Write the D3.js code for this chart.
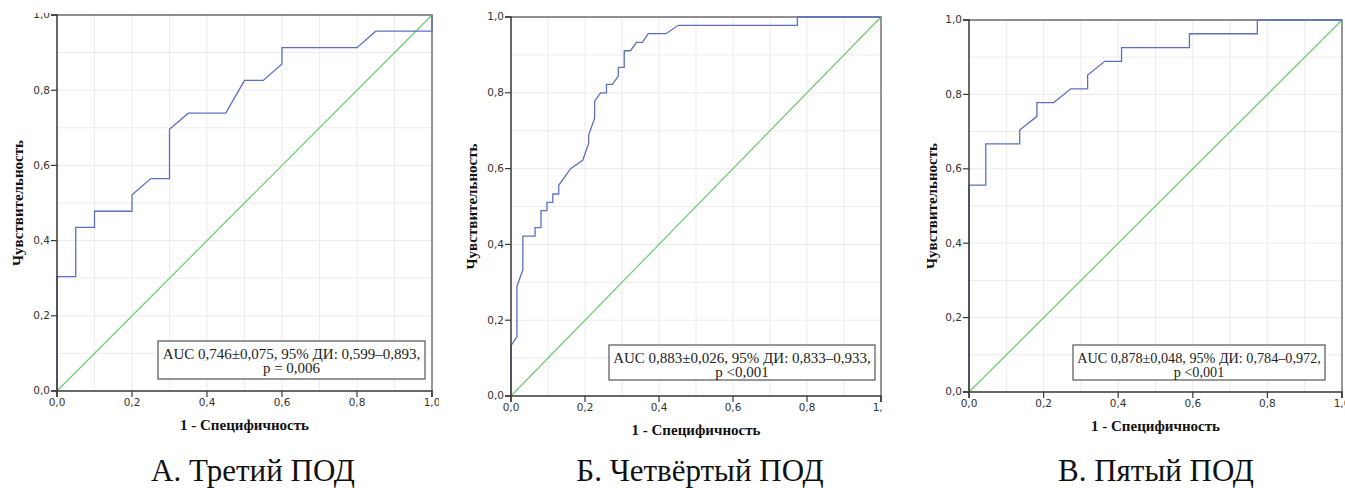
<!DOCTYPE html>
<html>
<head>
<meta charset="utf-8">
<script src="https://cdn.jsdelivr.net/npm/d3@7/dist/d3.min.js"></script>
<style>
  html, body { margin: 0; padding: 0; background: #fff; }
  svg { display: block; }
  .tick text { font-family: "DejaVu Sans", sans-serif; font-size: 10.5px; fill: #333; }
</style>
</head>
<body>
<svg id="chart" width="1345" height="488"></svg>
<script>
// ROC curve points (x = 1 - specificity, y = sensitivity)
var fprA = [0, 0, 0.05, 0.05, 0.10, 0.10, 0.20, 0.20, 0.25, 0.30, 0.30, 0.35, 0.45, 0.50, 0.55, 0.60, 0.60, 0.80, 0.85, 1.00, 1.00];
var tprA = [0, 0.304, 0.304, 0.435, 0.435, 0.478, 0.478, 0.522, 0.565, 0.565, 0.696, 0.739, 0.739, 0.826, 0.826, 0.870, 0.913, 0.913, 0.957, 0.957, 1.00];

var fprB = [0, 0, 0.016, 0.016, 0.032, 0.032, 0.065, 0.065, 0.081, 0.081, 0.097, 0.097, 0.113, 0.113, 0.129, 0.129, 0.161, 0.194, 0.210, 0.210, 0.226, 0.226, 0.242, 0.258, 0.258, 0.274, 0.290, 0.290, 0.306, 0.306, 0.323, 0.339, 0.355, 0.371, 0.419, 0.452, 0.774, 0.774, 1.00];
var tprB = [0, 0.133, 0.156, 0.289, 0.333, 0.422, 0.422, 0.444, 0.444, 0.489, 0.489, 0.511, 0.511, 0.533, 0.533, 0.556, 0.600, 0.622, 0.667, 0.689, 0.733, 0.778, 0.800, 0.800, 0.822, 0.822, 0.844, 0.867, 0.867, 0.911, 0.911, 0.933, 0.933, 0.956, 0.956, 0.978, 0.978, 1.00, 1.00];

var fprC = [0, 0, 0.045, 0.045, 0.136, 0.136, 0.182, 0.182, 0.227, 0.273, 0.318, 0.318, 0.364, 0.409, 0.409, 0.591, 0.591, 0.773, 0.773, 1.00];
var tprC = [0, 0.556, 0.556, 0.667, 0.667, 0.704, 0.741, 0.778, 0.778, 0.815, 0.815, 0.852, 0.889, 0.889, 0.926, 0.926, 0.963, 0.963, 1.00, 1.00];

var tickValues = [0, 0.2, 0.4, 0.6, 0.8, 1.0];
var gridValues = d3.range(0, 1.0001, 0.1);
var aucLines = [
  ["AUC 0,746±0,075, 95% ДИ: 0,599–0,893,", "p = 0,006"],
  ["AUC 0,883±0,026, 95% ДИ: 0,833–0,933,", "p <0,001"],
  ["AUC 0,878±0,048, 95% ДИ: 0,784–0,972,", "p <0,001"]
];
var captions = ["А. Третий ПОД", "Б. Четвёртый ПОД", "В. Пятый ПОД"];
var xTitle = "1 - Специфичность";
var yTitle = "Чувствительность";

// panel layout
var panels = [
  { fpr: fprA, tpr: tprA, left: 57, top: 15, w: 375, h: 376, clip: [0, 13, 439, 475], box: [158, 341, 267, 38], boxFont: 15, yTitleX: 18, capX: 253 },
  { fpr: fprB, tpr: tprB, left: 511, top: 17, w: 370, h: 379, clip: [455, 0, 428, 488], box: [609, 345, 266, 35], boxFont: 15, yTitleX: 472, capX: 700 },
  { fpr: fprC, tpr: tprC, left: 969, top: 20, w: 373, h: 372, clip: [910, 0, 435, 488], box: [1073, 345, 252, 35], boxFont: 14.2, yTitleX: 932, capX: 1156 }
];

var svg = d3.select("#chart");
var defs = svg.append("defs");

panels.forEach(function(p, i) {
  defs.append("clipPath").attr("id", "clip" + i)
    .append("rect")
    .attr("x", p.clip[0]).attr("y", p.clip[1])
    .attr("width", p.clip[2]).attr("height", p.clip[3]);

  var x = d3.scaleLinear().domain([0, 1]).range([p.left, p.left + p.w]);
  var y = d3.scaleLinear().domain([0, 1]).range([p.top + p.h, p.top]);

  var g = svg.append("g").attr("clip-path", "url(#clip" + i + ")");

  // grid
  g.append("g").selectAll("line.gx")
    .data(gridValues).enter().append("line")
    .attr("x1", function(d) { return x(d); }).attr("x2", function(d) { return x(d); })
    .attr("y1", y(0)).attr("y2", y(1))
    .attr("stroke", "#ececec").attr("stroke-width", 1);
  g.append("g").selectAll("line.gy")
    .data(gridValues).enter().append("line")
    .attr("y1", function(d) { return y(d); }).attr("y2", function(d) { return y(d); })
    .attr("x1", x(0)).attr("x2", x(1))
    .attr("stroke", "#ececec").attr("stroke-width", 1);

  // frame (top & right)
  g.append("path")
    .attr("d", "M" + x(0) + "," + y(1) + "H" + x(1) + "V" + y(0))
    .attr("fill", "none").attr("stroke", "#6e6e6e").attr("stroke-width", 1.4);

  // reference diagonal
  g.append("line")
    .attr("x1", x(0)).attr("y1", y(0)).attr("x2", x(1)).attr("y2", y(1))
    .attr("stroke", "#6ccb6c").attr("stroke-width", 1.2);

  // ROC curve
  var pts = p.fpr.map(function(v, k) { return [v, p.tpr[k]]; });
  var line = d3.line().x(function(d) { return x(d[0]); }).y(function(d) { return y(d[1]); });
  g.append("path").datum(pts)
    .attr("d", line)
    .attr("fill", "none").attr("stroke", "#5c70c2").attr("stroke-width", 1.3);

  // axes
  var fmt = function(d) { return d3.format(".1f")(d).replace(".", ","); };
  var xAxis = g.append("g").attr("transform", "translate(0," + y(0) + ")")
    .call(d3.axisBottom(x).tickValues(tickValues).tickFormat(fmt).tickSize(6).tickPadding(2).offset(0));
  var yAxis = g.append("g").attr("transform", "translate(" + x(0) + ",0)")
    .call(d3.axisLeft(y).tickValues(tickValues).tickFormat(fmt).tickSize(6).tickPadding(1).offset(0));
  [xAxis, yAxis].forEach(function(a) {
    a.select(".domain").attr("stroke", "#3a3a3a").attr("stroke-width", 1.5);
    a.selectAll(".tick line").attr("stroke", "#3a3a3a").attr("stroke-width", 1.2);
  });

  // AUC box
  var b = p.box;
  g.append("rect")
    .attr("x", b[0]).attr("y", b[1]).attr("width", b[2]).attr("height", b[3])
    .attr("fill", "#fff").attr("stroke", "#555").attr("stroke-width", 1.2);
  g.selectAll("text.auc").data(aucLines[i]).enter().append("text")
    .attr("x", b[0] + b[2] / 2)
    .attr("y", function(d, k) { return b[1] + 18 + k * 14; })
    .attr("text-anchor", "middle")
    .style("font-family", "'Liberation Serif', 'Times New Roman', serif")
    .style("font-size", p.boxFont + "px").style("fill", "#222")
    .text(function(d) { return d; });

  // axis titles
  g.append("text")
    .attr("x", x(0.5)).attr("y", y(0) + 39)
    .attr("text-anchor", "middle")
    .style("font-family", "'Liberation Serif', serif").style("font-weight", "bold")
    .style("font-size", "15px").style("fill", "#111")
    .text(xTitle);
  g.append("text")
    .attr("transform", "translate(" + (p.yTitleX + 5) + "," + y(0.5) + ") rotate(-90)")
    .attr("text-anchor", "middle")
    .style("font-family", "'Liberation Serif', serif").style("font-weight", "bold")
    .style("font-size", "15px").style("fill", "#111")
    .text(yTitle);

  // caption
  svg.append("text")
    .attr("x", p.capX).attr("y", 481)
    .attr("text-anchor", "middle")
    .style("font-family", "'Liberation Serif', 'Times New Roman', serif")
    .style("font-size", "31px").style("fill", "#111")
    .text(captions[i]);
});
</script>
</body>
</html>
